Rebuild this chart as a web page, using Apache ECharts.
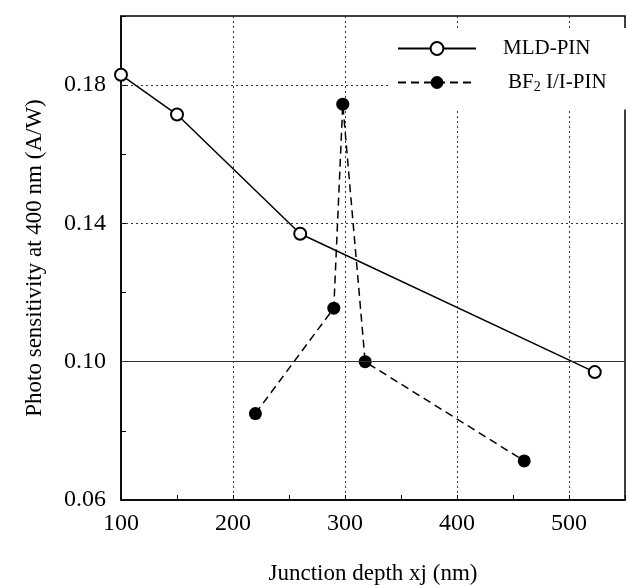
<!DOCTYPE html>
<html>
<head>
<meta charset="utf-8">
<script src="https://cdn.jsdelivr.net/npm/echarts@6/dist/echarts.min.js"></script>
<style>
    html, body { margin: 0; padding: 0; background: #fff; }
    #chart { width: 630px; height: 586px; }
</style>
</head>
<body>
<div id="chart"></div>
<script>
var mld_x = [100, 150, 260, 523];
var mld_y = [0.183, 0.1715, 0.137, 0.097];

var bf_x = [220, 290, 298, 318, 460];
var bf_y = [0.085, 0.1155, 0.1745, 0.100, 0.0713];

var y_labels = [0.06, 0.10, 0.14, 0.18];
var x_labels = [100, 200, 300, 400, 500];
var y_grid = [0.10, 0.14, 0.18];

window.onload = function(){
    var chart = echarts.init(document.getElementById('chart'));
    var font = 'Liberation Serif';

    var zip = function (xs, ys) {
        var res = [];
        for (var i = 0; i < xs.length; i++) {
            res.push([xs[i], ys[i]]);
        }
        return res;
    };

    /* horizontal grid lines, the one at 0.10 is solid in the figure */
    var grid_lines = y_grid.map(function (v) {
        return {
            yAxis: v,
            lineStyle: { type: v === 0.10 ? 'solid' : [2, 3], color: '#333', width: 1 }
        };
    });

    var option = {
        backgroundColor: '#fff',
        animation: false,
        grid: {
            left: 121, right: 5, top: 16, bottom: 86,
            outerBoundsMode: 'none',
            show: true,
            borderColor: '#000',
            borderWidth: 1.5
        },
        legend: {
            left: 390, top: 28,
            z: 10,
            orient: 'vertical',
            backgroundColor: '#fff',
            padding: [10, 20, 15, 7],
            itemWidth: 78,
            itemHeight: 16,
            itemGap: 13,
            data: ['MLD-PIN', 'BF2 I/I-PIN'],
            formatter: function (name) {
                if (name === 'MLD-PIN') return '{a|MLD-PIN}';
                return '{b|BF}{s|2}{c| I/I-PIN}';
            },
            textStyle: {
                fontFamily: font,
                fontSize: 21,
                color: '#000',
                rich: {
                    a: { fontFamily: font, fontSize: 21, color: '#000', padding: [0, 0, 0, 22] },
                    b: { fontFamily: font, fontSize: 21, color: '#000', padding: [0, 0, 0, 27] },
                    s: { fontFamily: font, fontSize: 14, color: '#000', padding: [10, 0, 0, 0] },
                    c: { fontFamily: font, fontSize: 21, color: '#000' }
                }
            }
        },
        xAxis: {
            type: 'value',
            min: 100, max: 550, interval: 100,
            name: 'Junction depth xj (nm)',
            nameLocation: 'middle',
            nameGap: 62,
            nameTextStyle: { fontFamily: font, fontSize: 23, color: '#000' },
            axisLine: { lineStyle: { color: '#000', width: 1.5 } },
            axisTick: { inside: true, length: 5, lineStyle: { color: '#000' } },
            minorTick: { show: true, splitNumber: 2, length: 5, lineStyle: { color: '#000' } },
            axisLabel: {
                margin: 12,
                fontFamily: font, fontSize: 24, color: '#000',
                showMaxLabel: false,
                formatter: function (v) {
                    return x_labels.indexOf(v) >= 0 ? String(v) : '';
                }
            },
            splitLine: { show: true, lineStyle: { type: [2, 3], color: '#333', width: 1 } }
        },
        yAxis: {
            type: 'value',
            min: 0.06, max: 0.20, interval: 0.02,
            name: 'Photo sensitivity at 400 nm (A/W)',
            nameLocation: 'middle',
            nameGap: 75,
            nameTextStyle: { fontFamily: font, fontSize: 23, color: '#000' },
            axisLine: { lineStyle: { color: '#000', width: 1.5 } },
            axisTick: { inside: true, length: 5, lineStyle: { color: '#000' } },
            axisLabel: {
                margin: 15,
                fontFamily: font, fontSize: 24, color: '#000',
                formatter: function (v) {
                    for (var i = 0; i < y_labels.length; i++) {
                        if (Math.abs(v - y_labels[i]) < 1e-6) return v.toFixed(2);
                    }
                    return '';
                }
            },
            splitLine: { show: false }
        },
        series: [{
            name: 'MLD-PIN',
            type: 'line',
            data: zip(mld_x, mld_y),
            symbol: 'emptyCircle',
            symbolSize: 12,
            itemStyle: { color: '#000', borderWidth: 1.5 },
            lineStyle: { color: '#000', width: 1.5 },
            markLine: {
                silent: true,
                symbol: 'none',
                label: { show: false },
                data: grid_lines
            },
            z: 3
        }, {
            name: 'BF2 I/I-PIN',
            type: 'line',
            data: zip(bf_x, bf_y),
            symbol: 'circle',
            symbolSize: 13,
            itemStyle: { color: '#000' },
            lineStyle: { color: '#000', width: 1.5, type: [8, 5] },
            z: 3
        }]
    };
    chart.setOption(option);
};
</script>
</body>
</html>
